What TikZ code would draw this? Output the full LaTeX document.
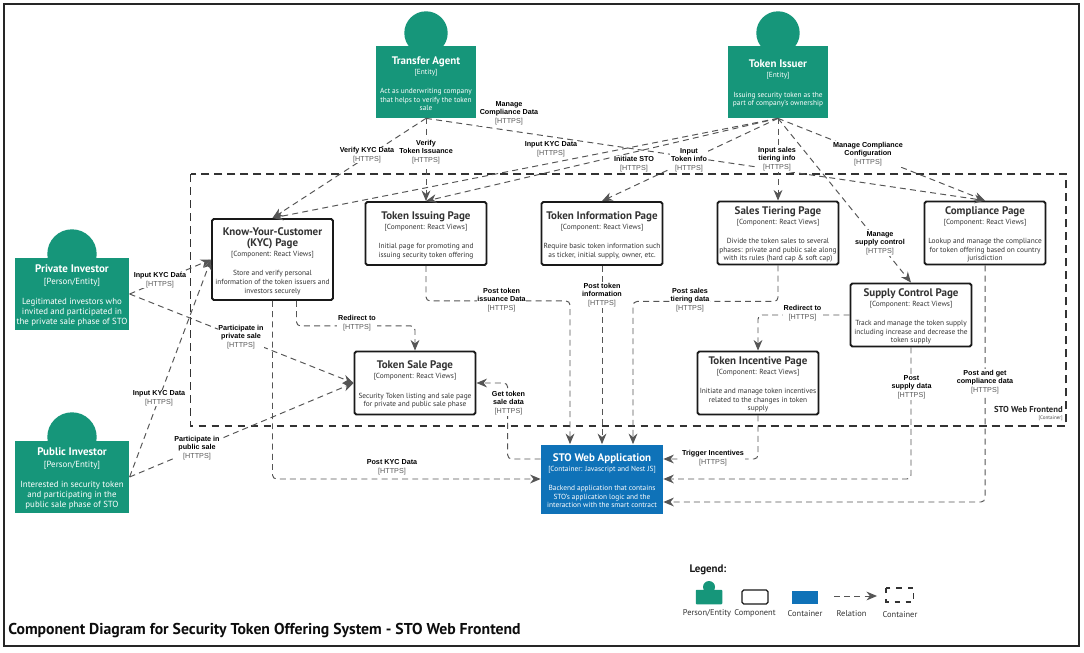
\documentclass[tikz,border=0pt]{standalone}
\usepackage{fontspec}
\setmainfont{PT Sans}
\newfontfamily\relfont{Liberation Sans}
\usepackage{tikz}
\usetikzlibrary{arrows.meta,calc,positioning}
\definecolor{personfill}{HTML}{16967A}
\definecolor{appfill}{HTML}{0F72B8}
\definecolor{relgray}{HTML}{555555}
\newcommand{\nm}[1]{{\fontsize{6.25}{6.25}\selectfont\bfseries #1}}
\newcommand{\boxtext}[3]{\rule{0pt}{6.2pt}#1\\[0.9pt]#2\\[6pt]#3}
\newcommand{\rb}[1]{{\bfseries #1}}
\newcommand{\rh}{{\color{black!65}[HTTPS]}}
\tikzset{
  pagebox/.style={draw=black!85,line width=1.2pt},
  person/.style={fill=personfill,text=white,inner sep=0pt,align=center,minimum width=100*0.02cm,minimum height=72*0.02cm,font=\fontsize{4.2}{4.9}\selectfont},
  investor/.style={person,minimum width=114.5*0.02cm,font=\fontsize{5.05}{5.7}\selectfont},
  comp/.style={draw=black!90,fill=white,text=black!80,line width=1.1pt,rounded corners=1pt,inner sep=0pt,align=center,minimum width=121*0.02cm,minimum height=63*0.02cm,font=\fontsize{4.2}{4.9}\selectfont},
  app/.style={fill=appfill,text=white,inner sep=0pt,align=center,minimum width=122*0.02cm,minimum height=69*0.02cm,font=\fontsize{4.2}{4.9}\selectfont},
  rel/.style={draw=relgray,line width=0.55pt,dash pattern=on 3.4pt off 2.4pt,rounded corners=2.3pt,-{Stealth[length=6pt,width=5pt]}},
  boundary/.style={draw=black!80,line width=0.85pt,dash pattern=on 4.5pt off 2.9pt},
  rellbl/.style={fill=white,inner sep=0.4pt,align=center,font=\relfont\fontsize{4.1}{4.95}\selectfont},
  legendtxt/.style={inner sep=0pt,text=black!80,font=\fontsize{4.8}{5}\selectfont},
}
\begin{document}
\begin{tikzpicture}[x=0.02cm,y=-0.02cm]
\useasboundingbox (0,0) rectangle (1084,652);
\fill[white] (0,0) rectangle (1084,652);
\draw[pagebox] (4,4) rectangle (1079,646);
\draw[boundary] (190.5,174) rectangle (1066,426);

\coordinate (agenthead) at (426,33);
\coordinate (issuerhead) at (778,33);
\coordinate (privatehead) at (72,254);
\coordinate (publichead) at (72,437);
\fill[personfill] (agenthead) circle (21.7);
\fill[personfill] (issuerhead) circle (21.7);
\fill[personfill] (privatehead) circle (24.7);
\fill[personfill] (publichead) circle (24.7);
\node[person] (agent) at (426,82) {\boxtext{\nm{Transfer Agent}}{[Entity]}{Act as underwriting company\\that helps to verify the token\\sale}};
\node[person] (issuer) at (778,82) {\boxtext{\nm{Token Issuer}}{[Entity]}{Issuing security token as the\\part of company's ownership}};
\node[investor] (private) at (72,294) {\boxtext{\nm{Private Investor}}{[Person/Entity]}{Legitimated investors who\\invited and participated in\\the private sale phase of STO}};
\node[investor] (public) at (72,477) {\boxtext{\nm{Public Investor}}{[Person/Entity]}{Interested in security token\\and participating in the\\public sale phase of STO}};

\node[comp,minimum height=81*0.02cm] (kyc) at (272.5,259.5) {\boxtext{\nm{Know-Your-Customer}\\[1.6pt]\nm{(KYC) Page}}{[Component: React Views]}{Store and verify personal\\information of the token issuers and\\investors securely}};
\node[comp] (tissue) at (426,233.5) {\boxtext{\nm{Token Issuing Page}}{[Component: React Views]}{Initial page for promoting and\\issuing security token offering}};
\node[comp] (tinfo) at (602,233.5) {\boxtext{\nm{Token Information Page}}{[Component: React Views]}{Require basic token information such\\as ticker, initial supply, owner, etc.}};
\node[comp] (tiering) at (778,233) {\boxtext{\nm{Sales Tiering Page}}{[Component: React Views]}{Divide the token sales to several\\phases: private and public sale along\\with its rules (hard cap \& soft cap)}};
\node[comp] (compl) at (985,233) {\boxtext{\nm{Compliance Page}}{[Component: React Views]}{Lookup and manage the compliance\\for token offering based on country\\jurisdiction}};
\node[comp] (supply) at (911,315) {\boxtext{\nm{Supply Control Page}}{[Component: React Views]}{Track and manage the token supply\\including increase and decrease the\\token supply}};
\node[comp] (sale) at (415,383) {\boxtext{\nm{Token Sale Page}}{[Component: React Views]}{Security Token listing and sale page\\for private and public sale phase}};
\node[comp] (incent) at (758,383) {\boxtext{\nm{Token Incentive Page}}{[Component: React Views]}{Initiate and manage token incentives\\related to the changes in token\\supply}};
\node[app] (webapp) at (602,479) {\boxtext{\nm{STO Web Application}}{[Container: Javascript and Nest JS]}{Backend application that contains\\STO's application logic and the\\interaction with the smart contract}};

\draw[rel] (agent.south) -- (kyc.north);
\draw[rel] (agent.south) -- (tissue.north);
\draw[rel] (agent.south) -- (compl.north);
\draw[rel] (issuer.south) -- (kyc.north);
\draw[rel] (issuer.south) -- (tissue.north);
\draw[rel] (issuer.south) -- (tinfo.north);
\draw[rel] (issuer.south) -- (tiering.north);
\draw[rel] (issuer.south) -- (supply.north);
\draw[rel] (issuer.south) -- (compl.north);
\draw[rel] (private.east) -- (kyc.west);
\draw[rel] (public.east) -- (kyc.west);
\draw[rel] (private.east) -- (sale.west);
\draw[rel] (public.east) -- (sale.west);
\draw[rel] (kyc.south) |- (webapp.west);
\draw[rel] ($(kyc.south)+(24,0)$) -- ++(0,25) -| (sale.north);
\draw[rel] (tissue.south) -- ++(0,35) -| ($(webapp.north)+(-32,0)$);
\draw[rel] (tinfo.south) -- (webapp.north);
\draw[rel] (tiering.south) -- ++(0,36) -| ($(webapp.north)+(31,0)$);
\draw[rel] ($(webapp.west)+(0,-20)$) -- ++(-33,0) |- (sale.east);
\draw[rel] (supply.west) -| (incent.north);
\draw[rel] (incent.south) |- ($(webapp.east)+(0,-20)$);
\draw[rel] (supply.south) |- (webapp.east);
\draw[rel] (compl.south) |- ($(webapp.east)+(0,23)$);

\node[rellbl] (lblverifykyc) at (367,155) {\rb{Verify KYC Data}\\\rh};
\node[rellbl] (lblverifytoken) at (426,152) {\rb{Verify}\\\rb{Token Issuance}\\\rh};
\node[rellbl] (lblmanagedata) at (509,113) {\rb{Manage}\\\rb{Compliance Data}\\\rh};
\node[rellbl] (lblinputkyc) at (551,149) {\rb{Input KYC Data}\\\rh};
\node[rellbl] (lblinitiate) at (634,164) {\rb{Initiate STO}\\\rh};
\node[rellbl] (lblinputinfo) at (689,160) {\rb{Input}\\\rb{Token info}\\\rh};
\node[rellbl] (lblinputtier) at (777,159) {\rb{Input sales}\\\rb{tiering info}\\\rh};
\node[rellbl] (lblmanageconf) at (868,154) {\rb{Manage Compliance}\\\rb{Configuration}\\\rh};
\node[rellbl] (lblmanagesupply) at (880,243) {\rb{Manage}\\\rb{supply control}\\\rh};
\node[rellbl] (lblprivkyc) at (160,280) {\rb{Input KYC Data}\\\rh};
\node[rellbl] (lblpubkyc) at (159,398) {\rb{Input KYC Data}\\\rh};
\node[rellbl] (lblprivsale) at (241,337) {\rb{Participate in}\\\rb{private sale}\\\rh};
\node[rellbl] (lblpubsale) at (197,448) {\rb{Participate in}\\\rb{public sale}\\\rh};
\node[rellbl] (lblpostkyc) at (392,467) {\rb{Post KYC Data}\\\rh};
\node[rellbl] (lblredirsale) at (357,323) {\rb{Redirect to}\\\rh};
\node[rellbl] (lblpostissue) at (501.5,300) {\rb{Post token}\\\rb{issuance Data}\\\rh};
\node[rellbl] (lblpostinfo) at (602,295) {\rb{Post token}\\\rb{information}\\\rh};
\node[rellbl] (lblposttier) at (690,300) {\rb{Post sales}\\\rb{tiering data}\\\rh};
\node[rellbl] (lblgetsale) at (508.5,403) {\rb{Get token}\\\rb{sale data}\\\rh};
\node[rellbl] (lblrediring) at (802.5,313) {\rb{Redirect to}\\\rh};
\node[rellbl] (lbltrigger) at (713,458) {\rb{Trigger Incentives}\\\rh};
\node[rellbl] (lblpostsupply) at (911.5,387) {\rb{Post}\\\rb{supply data}\\\rh};
\node[rellbl] (lblpostcompl) at (985,382) {\rb{Post and get}\\\rb{compliance data}\\\rh};

\node[anchor=east,inner sep=0pt,font=\bfseries\fontsize{4.9}{5}\selectfont,text=black!85] (frontendname) at (1063,409) {STO Web Frontend};
\node[anchor=east,inner sep=0pt,font=\fontsize{2.9}{3}\selectfont,text=black!70] (frontendtype) at (1063,418) {[Container]};

\node[inner sep=0pt,font=\bfseries\fontsize{6.2}{6.5}\selectfont,text=black!90] (legendtitle) at (708,570) {Legend:};
\coordinate (leghead) at (709,587);
\fill[personfill] (leghead) circle (6);
\node[fill=personfill,minimum width=26.5*0.02cm,minimum height=14.5*0.02cm,inner sep=0pt,rounded corners=0.5pt] (legperson) at (709,597) {};
\node[comp,minimum width=26*0.02cm,minimum height=14*0.02cm,line width=0.7pt] (legcomp) at (755,597) {};
\node[fill=appfill,minimum width=26*0.02cm,minimum height=13*0.02cm,inner sep=0pt] (legapp) at (805,597) {};
\coordinate (legrelA) at (834,596);
\coordinate (legrelB) at (877,596);
\draw[rel] (legrelA) -- (legrelB);
\draw[boundary,line width=0.6pt,dash pattern=on 3pt off 3.4pt] (886,588) rectangle (913.5,602);
\node[legendtxt] (legpersontxt) at (707,613) {Person/Entity};
\node[legendtxt] (legcomptxt) at (755,613.5) {Component};
\node[legendtxt] (legapptxt) at (805,613.5) {Container};
\node[legendtxt] (legreltxt) at (851.5,613.5) {Relation};
\node[legendtxt] (legboundtxt) at (900,615) {Container};

\node[anchor=west,inner sep=0pt,font=\bfseries\fontsize{8.95}{10}\selectfont,text=black!95] (diagramtitle) at (8,631) {Component Diagram for Security Token Offering System - STO Web Frontend};
\end{tikzpicture}
\end{document}
